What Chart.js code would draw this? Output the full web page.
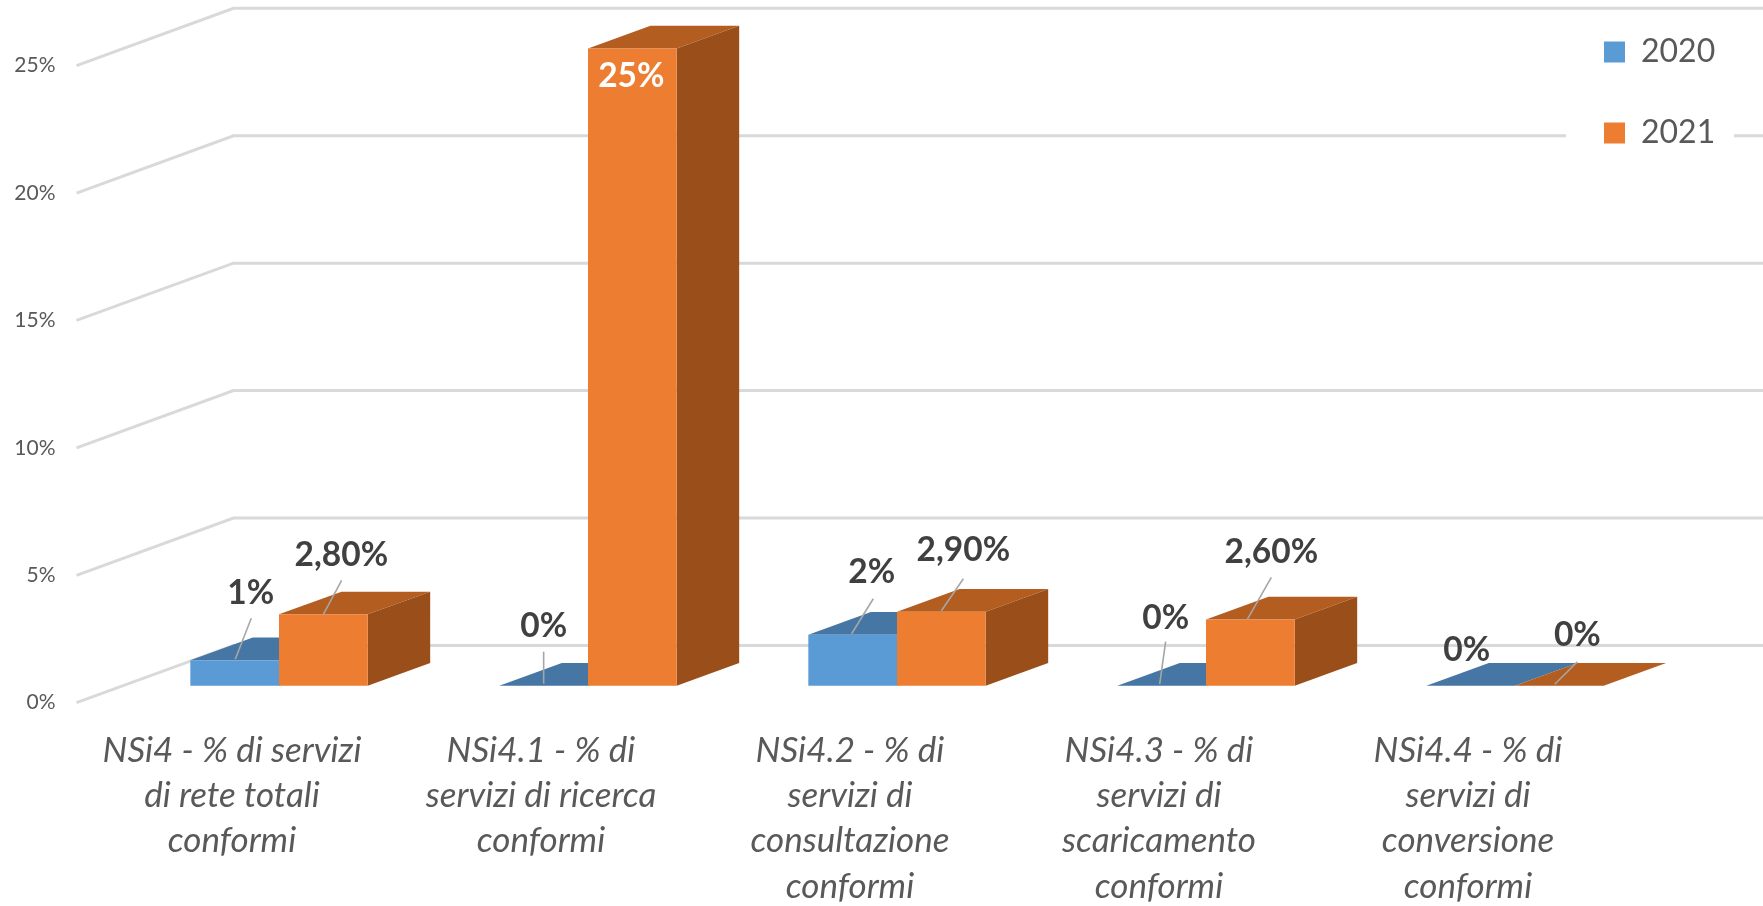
<!DOCTYPE html>
<html>
<head>
<meta charset="utf-8">
<style>html,body{margin:0;padding:0;background:#fff}canvas{display:block}</style>
<script src="https://cdn.jsdelivr.net/npm/chart.js@4"></script>
</head>
<body>
<canvas id="c" width="1763" height="906"></canvas>
<script>
// ---- data ----
const categories = [
  ["NSi4 - % di servizi", "di rete totali", "conformi"],
  ["NSi4.1 - % di", "servizi di ricerca", "conformi"],
  ["NSi4.2 - % di", "servizi di", "consultazione", "conformi"],
  ["NSi4.3 - % di", "servizi di", "scaricamento", "conformi"],
  ["NSi4.4 - % di", "servizi di", "conversione", "conformi"]
];
const values2020 = [1, 0, 2, 0, 0];
const values2021 = [2.8, 25, 2.9, 2.6, 0];
const labels2020 = ["1%", "0%", "2%", "0%", "0%"];
const labels2021 = ["2,80%", "25%", "2,90%", "2,60%", "0%"];
const wallTicks = [0, 5, 10, 15, 20, 25];

// ---- label placement relative to each bar's top centre: [dx, dy, leaderX1, leaderY1, leaderX2, leaderY2] ----
const place2020 = [
  [16, -67, 16.6, -42, 0.6, -1],
  [0, -59, 0, -34, 0, -2],
  [19, -63, 20.6, -36, -1, -1],
  [4, -67, 4, -44, -2, -1.5],
  [-4, -35]
];
const place2021 = [
  [18, -59, 18.3, -34, 0, 0],
  [-1, 28],
  [22, -62, 22, -33, 0, -1],
  [21, -67, 21, -42, -3, 0],
  [18, -50, 18, -24, -4.6, -1.4]
];

// ---- styling ----
const DEPTH_BAR = {x: 62.5, y: -22.7};
const DEPTH_WALL = {x: 157, y: -57.3};
const FACE = [
  {top: '#4676A3', side: '#3A6288'},
  {top: '#B35D21', side: '#9A4F1B'}
];
const GRID = '#D9D9D9';
const FONT = 'Lato, Carlito, Calibri, sans-serif';

function drawFaces(chart, index) {
  const {ctx} = chart;
  const face = FACE[index];
  const d = DEPTH_BAR;
  ctx.save();
  chart.getDatasetMeta(index).data.forEach(bar => {
    const {x, y, base, width} = bar.getProps(['x', 'y', 'base', 'width'], true);
    const l = x - width / 2, r = x + width / 2;
    ctx.fillStyle = face.top;
    ctx.beginPath();
    ctx.moveTo(l, y);
    ctx.lineTo(l + d.x, y + d.y);
    ctx.lineTo(r + d.x, y + d.y);
    ctx.lineTo(r, y);
    ctx.closePath();
    ctx.fill();
    if (base - y > 0.5) {
      ctx.fillStyle = face.side;
      ctx.beginPath();
      ctx.moveTo(r, y);
      ctx.lineTo(r + d.x, y + d.y);
      ctx.lineTo(r + d.x, base + d.y);
      ctx.lineTo(r, base);
      ctx.closePath();
      ctx.fill();
    }
  });
  ctx.restore();
}

const threeD = {
  id: 'threeD',
  beforeDraw(chart) {
    const {ctx} = chart;
    const s = chart.scales.yWall;
    const left = 76.5, right = 1763;
    ctx.save();
    ctx.strokeStyle = GRID;
    ctx.lineWidth = 3;
    wallTicks.forEach(v => {
      const y = s.getPixelForValue(v);
      ctx.beginPath();
      ctx.moveTo(left, y);
      ctx.lineTo(left + DEPTH_WALL.x, y + DEPTH_WALL.y);
      ctx.lineTo(right, y + DEPTH_WALL.y);
      ctx.stroke();
    });
    ctx.fillStyle = '#fff';
    ctx.fillRect(1566, 20, 168, 140);
    ctx.restore();
  },
  afterLayout(chart) {
    const l = chart.legend;
    const w = l.width, h = l.height;
    l.left = 1604 - 49; l.top = 36 - 49;
    l.right = l.left + w; l.bottom = l.top + h;
    l.adjustHitBoxes();
  },
  // The 2020 bars sit behind the 2021 bars, so both are painted in that order here.
  beforeDatasetDraw(chart, args) {
    if (args.index === 1) return false;
    drawFaces(chart, 0);
  },
  afterDatasetDraw(chart, args) {
    if (args.index !== 0) return;
    drawFaces(chart, 1);
    chart.getDatasetMeta(1).controller.draw();
  },
  afterDatasetsDraw(chart) {
    const {ctx} = chart;
    const sets = [[labels2020, place2020], [labels2021, place2021]];
    ctx.save();
    sets.forEach(([texts, places], di) => {
      chart.getDatasetMeta(di).data.forEach((bar, i) => {
        const {x, y} = bar.getProps(['x', 'y'], true);
        const p = places[i];
        if (p.length > 2) {
          ctx.strokeStyle = '#A6A6A6';
          ctx.lineWidth = 1.6;
          ctx.beginPath();
          ctx.moveTo(x + p[2], y + p[3]);
          ctx.lineTo(x + p[4], y + p[5]);
          ctx.stroke();
        }
        ctx.font = 'bold 33.5px ' + FONT;
        ctx.textAlign = 'center';
        ctx.textBaseline = 'middle';
        ctx.fillStyle = texts[i] === '25%' ? '#FFFFFF' : '#404040';
        ctx.fillText(texts[i], x + p[0], y + p[1]);
      });
    });
    ctx.restore();
  }
};

new Chart(document.getElementById('c'), {
  type: 'bar',
  plugins: [threeD],
  data: {
    labels: categories,
    datasets: [
      {label: '2020', data: values2020, backgroundColor: '#5B9BD5', yAxisID: 'y',
       barPercentage: 1, categoryPercentage: 0.574},
      {label: '2021', data: values2021, backgroundColor: '#ED7D31', yAxisID: 'y',
       barPercentage: 1, categoryPercentage: 0.574}
    ]
  },
  options: {
    responsive: false,
    animation: false,
    devicePixelRatio: 1,
    layout: {padding: {top: 8.3, right: 93.5, bottom: 0, left: 0}},
    plugins: {
      tooltip: {enabled: false},
      legend: {
        display: true,
        position: 'chartArea',
        fullSize: false,
        align: 'start',
        labels: {
          boxWidth: 21, boxHeight: 21, padding: 49, color: '#595959',
          font: {family: FONT, size: 32}
        }
      }
    },
    scales: {
      x: {
        grid: {display: false, drawTicks: false},
        border: {display: false},
        afterFit(s) { s.height = 203.3; },
        ticks: {
          autoSkip: false, maxRotation: 0, minRotation: 0,
          padding: 25, labelOffset: -47, color: '#595959',
          font: {family: FONT, size: 35, style: 'italic', lineHeight: 1.297}
        }
      },
      y: {display: false, min: -0.667, max: 26.58},
      yWall: {
        position: 'left',
        min: 0, max: 27.25,
        grid: {display: false, drawTicks: false},
        border: {display: false},
        afterFit(s) { s.width = 124.5; s.paddingTop = 0; s.paddingBottom = 0; },
        ticks: {
          stepSize: 5, includeBounds: false, padding: 69, color: '#595959',
          font: {family: FONT, size: 21},
          callback: v => v + '%'
        }
      }
    }
  }
});
</script>
</body>
</html>
